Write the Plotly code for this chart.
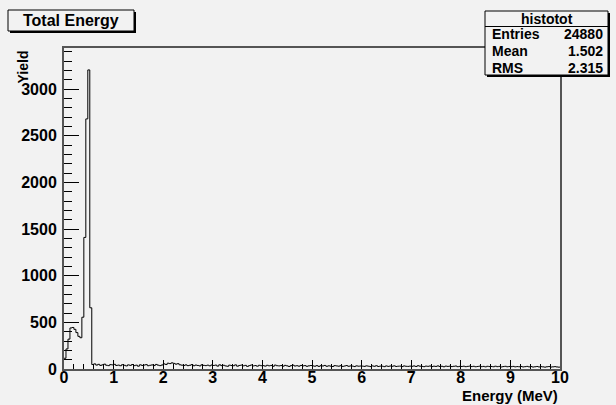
import numpy as np
import plotly.graph_objects as go

# ---------------- data ----------------
x_min, x_max, n_bins = 0.0, 10.0, 250
counts_peak = [115, 215, 320, 440, 445, 425, 390, 350, 335, 555, 1410, 2680, 3205, 656]
counts_tail_0 = [48, 55, 42, 50, 38, 45, 52, 40, 36, 47, 44]
counts_tail_1 = [50, 38, 42, 35, 46, 40, 33, 44, 39, 48, 36, 41, 30, 45, 38, 42, 47, 35, 40, 44, 37, 49, 41, 36, 43]
counts_tail_2 = [55, 48, 62, 58, 66, 60, 52, 57, 45, 41, 38, 44, 36, 40, 47, 35, 42, 38, 33, 45, 39, 36, 41, 34, 43]
counts_tail_3 = [38, 42, 31, 45, 36, 40, 33, 29, 41, 37, 35, 44, 30, 38, 42, 34, 39, 28, 36, 43, 33, 37, 30, 40, 35]
counts_tail_4 = [36, 31, 40, 34, 38, 29, 42, 35, 33, 37, 30, 39, 34, 27, 36, 41, 32, 35, 30, 38, 33, 36, 29, 34, 37]
counts_tail_5 = [33, 30, 36, 28, 35, 32, 38, 29, 34, 31, 27, 36, 33, 30, 35, 28, 32, 37, 29, 33, 31, 26, 34, 30, 32]
counts_tail_6 = [31, 28, 34, 30, 26, 33, 29, 35, 27, 31, 30, 25, 33, 28, 32, 29, 34, 27, 30, 31, 26, 33, 29, 28, 31]
counts_tail_7 = [29, 33, 27, 35, 30, 28, 25, 31, 29, 32, 26, 30, 28, 33, 27, 29, 24, 31, 28, 30, 26, 29, 32, 25, 28]
counts_tail_8 = [27, 30, 25, 28, 31, 26, 29, 24, 27, 30, 25, 28, 23, 29, 26, 27, 24, 30, 25, 28, 22, 26, 29, 24, 27]
counts_tail_9 = [25, 28, 23, 26, 24, 27, 22, 25, 28, 23, 26, 21, 24, 27, 22, 25, 23, 20, 24, 26, 21, 23, 25, 22, 20]

x_ticks = [0, 1, 2, 3, 4, 5, 6, 7, 8, 9, 10]
y_ticks = [0, 500, 1000, 1500, 2000, 2500, 3000]

stats_name = "histotot"
stats_labels = ["Entries", "Mean", "RMS"]
stats_values = ["24880", "1.502", "2.315"]

# ---------------- build ----------------
counts = (counts_peak + counts_tail_0 + counts_tail_1 + counts_tail_2 + counts_tail_3 +
          counts_tail_4 + counts_tail_5 + counts_tail_6 + counts_tail_7 + counts_tail_8 + counts_tail_9)
edges = np.linspace(x_min, x_max, n_bins + 1)

W, H = 616, 405
L, R, T, B = 64, 56, 48, 36
pw, ph = W - L - R, H - T - B
Y_MAX = 3440

def px(x):
    return (x - L) / pw

def py(y):
    return (H - B - y) / ph

BG = "#f2f2f2"
FONT = "Liberation Sans, Arial, sans-serif"

fig = go.Figure()
fig.add_trace(go.Scatter(
    x=list(edges), y=counts + [counts[-1]],
    mode="lines", line=dict(color="black", width=1, shape="hv"), hoverinfo="skip"))

axis_common = dict(showgrid=False, zeroline=False, showline=True, mirror=True,
                   linecolor="#555555", linewidth=2, ticks="inside", tickcolor="black",
                   tickwidth=1, tickfont=dict(family=FONT, size=16, color="black", weight="bold"))

fig.update_xaxes(range=[x_min, x_max], tickvals=x_ticks, ticklen=9,
                 minor=dict(dtick=0.2, ticklen=5, ticks="inside", tickcolor="black", tickwidth=1),
                 ticklabelstandoff=-7, **axis_common)
fig.update_yaxes(range=[0, Y_MAX], tickvals=y_ticks, ticklen=15,
                 minor=dict(dtick=100, ticklen=7.5, ticks="inside", tickcolor="black", tickwidth=1),
                 ticklabelstandoff=2, **axis_common)

shapes = []
annotations = []

# title box with shadow
tb = (8, 10, 134, 31)
shapes.append(dict(type="rect", xref="paper", yref="paper",
                   x0=px(tb[0] + 2), x1=px(tb[2] + 2), y0=py(tb[1] + 2), y1=py(tb[3] + 2),
                   line=dict(width=0), fillcolor="black", layer="above"))
shapes.append(dict(type="rect", xref="paper", yref="paper",
                   x0=px(tb[0]), x1=px(tb[2]), y0=py(tb[1]), y1=py(tb[3]),
                   line=dict(width=1, color="black"), fillcolor=BG, layer="above"))
annotations.append(dict(text="Total Energy", xref="paper", yref="paper",
                        x=px((tb[0] + tb[2]) / 2), y=py((tb[1] + tb[3]) / 2),
                        xanchor="center", yanchor="middle", showarrow=False,
                        font=dict(family=FONT, size=16, color="black", weight="bold")))

# stats box with shadow
sb = (485, 11, 608, 75)
shapes.append(dict(type="rect", xref="paper", yref="paper",
                   x0=px(sb[0] + 2), x1=px(sb[2] + 2), y0=py(sb[1] + 2), y1=py(sb[3] + 2),
                   line=dict(width=0), fillcolor="black", layer="above"))
shapes.append(dict(type="rect", xref="paper", yref="paper",
                   x0=px(sb[0]), x1=px(sb[2]), y0=py(sb[1]), y1=py(sb[3]),
                   line=dict(width=1, color="black"), fillcolor=BG, layer="above"))
shapes.append(dict(type="line", xref="paper", yref="paper",
                   x0=px(sb[0]), x1=px(sb[2]), y0=py(26.5), y1=py(26.5),
                   line=dict(width=1, color="black"), layer="above"))
annotations.append(dict(text=stats_name, xref="paper", yref="paper",
                        x=px((sb[0] + sb[2]) / 2), y=py(19), xanchor="center", yanchor="middle",
                        showarrow=False, font=dict(family=FONT, size=14, color="black", weight="bold")))
row_y = [34.5, 51.5, 68.0]
for lab, val, yy in zip(stats_labels, stats_values, row_y):
    annotations.append(dict(text=lab, xref="paper", yref="paper", x=px(sb[0] + 5), y=py(yy),
                            xanchor="left", yanchor="middle", showarrow=False,
                            font=dict(family=FONT, size=14, color="black", weight="bold")))
    annotations.append(dict(text=val, xref="paper", yref="paper", x=px(sb[2] - 3), y=py(yy),
                            xanchor="right", yanchor="middle", showarrow=False,
                            font=dict(family=FONT, size=14, color="black", weight="bold")))

# axis titles
annotations.append(dict(text="Energy (MeV)", xref="paper", yref="paper", x=1.0, y=py(395),
                        xanchor="right", yanchor="middle", showarrow=False,
                        font=dict(family=FONT, size=15, color="black", weight="bold")))
annotations.append(dict(text="Yield", xref="paper", yref="paper", x=px(22), y=py(49),
                        xanchor="center", yanchor="top", textangle=-90, showarrow=False,
                        font=dict(family=FONT, size=14, color="black", weight="bold")))

fig.update_layout(width=W, height=H,
                  margin=dict(l=L, r=R, t=T, b=B, pad=0, autoexpand=False),
                  paper_bgcolor=BG, plot_bgcolor=BG, showlegend=False,
                  shapes=shapes, annotations=annotations)

fig.write_html("out.html", config={"displayModeBar": False},
               post_script="document.body.style.margin='0';document.body.style.background='%s';" % BG)
